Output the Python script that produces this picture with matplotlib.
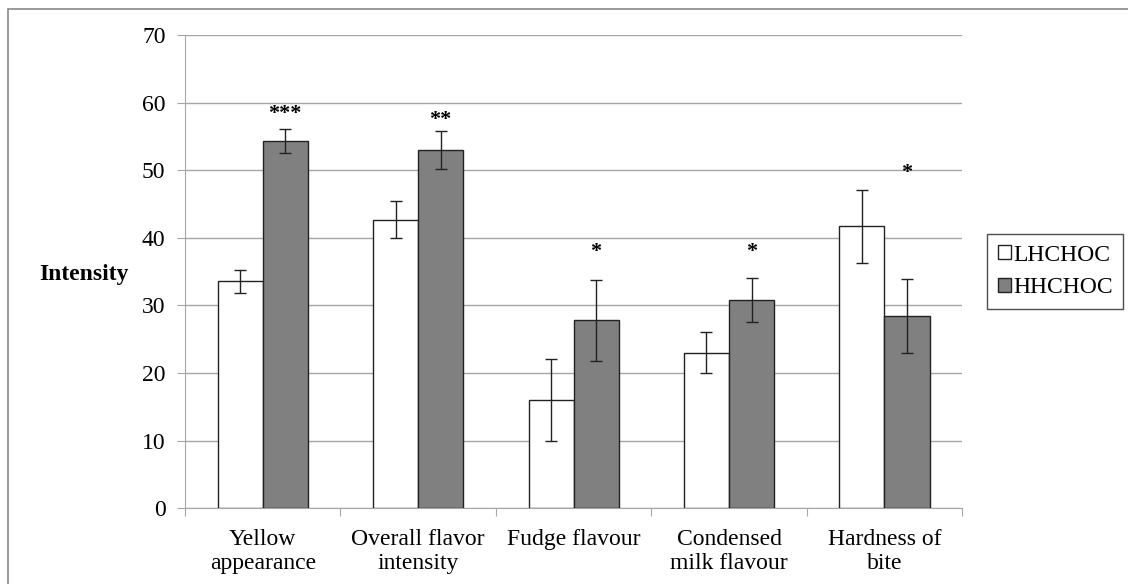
import numpy as np
import matplotlib.pyplot as plt
from matplotlib.patches import Rectangle

plt.rcParams['font.family'] = ['Liberation Serif', 'DejaVu Serif']

categories = ['Yellow\nappearance', 'Overall flavor\nintensity', 'Fudge flavour',
              'Condensed\nmilk flavour', 'Hardness of\nbite']
lh = [33.6, 42.7, 16.0, 23.0, 41.7]
lh_err = [1.7, 2.8, 6.0, 3.0, 5.4]
hh = [54.3, 53.0, 27.8, 30.8, 28.4]
hh_err = [1.8, 2.8, 6.0, 3.3, 5.5]
stars = ['***', '**', '*', '*', '*']
star_y = [56.8, 56.0, 36.4, 36.4, 48.1]

fig = plt.figure(figsize=(11.28, 5.84), dpi=100)
ax = fig.add_axes([0.164, 0.130, 0.689, 0.810])
fig.patches.append(Rectangle((0.007, -0.05), 1.05, 1.0346, transform=fig.transFigure,
                             fill=False, edgecolor='#888888', linewidth=1.2))

x = np.arange(len(categories))
w = 0.29
ekw = dict(elinewidth=1, capthick=1, ecolor='#222222')
ax.bar(x - w/2, lh, w, yerr=lh_err, color='white', edgecolor='#222222', linewidth=1,
       label='LHCHOC', capsize=4, error_kw=ekw, zorder=3)
ax.bar(x + w/2, hh, w, yerr=hh_err, color='#808080', edgecolor='#222222', linewidth=1,
       label='HHCHOC', capsize=4, error_kw=ekw, zorder=3)

for i, s in enumerate(stars):
    ax.text(x[i] + w/2, star_y[i], s, ha='center', va='bottom', fontsize=16, fontweight='bold')

ax.set_xlim(-0.5, len(categories) - 0.5)
ax.set_ylim(0, 70)
ax.set_yticks(range(0, 71, 10))
ax.yaxis.grid(True, color='#a6a6a6', linewidth=1)
ax.set_axisbelow(True)
for s in ['top', 'right']:
    ax.spines[s].set_visible(False)
for s in ['left', 'bottom']:
    ax.spines[s].set_color('#a6a6a6')
ax.tick_params(axis='y', colors='#a6a6a6', labelcolor='black', labelsize=17, length=6, pad=8)
ax.set_xticks(np.arange(-0.5, len(categories), 1), minor=False)
ax.set_xticklabels([])
ax.set_xticks(x, minor=True)
ax.set_xticklabels(categories, minor=True, fontsize=17, va='top', linespacing=1.2)
ax.tick_params(axis='x', which='major', colors='#a6a6a6', length=6)
ax.tick_params(axis='x', which='minor', length=0, pad=15)

fig.text(0.035, 0.53, 'Intensity', fontsize=17, fontweight='bold', va='center')

leg = ax.legend(loc='center left', bbox_to_anchor=(1.032, 0.5), fontsize=17, frameon=True,
                fancybox=False, edgecolor='#222222', handlelength=0.55, handleheight=0.55,
                handletextpad=0.1, borderpad=0.45, labelspacing=0.5, borderaxespad=0)
leg.get_frame().set_linewidth(1)

fig.savefig('out.png', dpi=100)
